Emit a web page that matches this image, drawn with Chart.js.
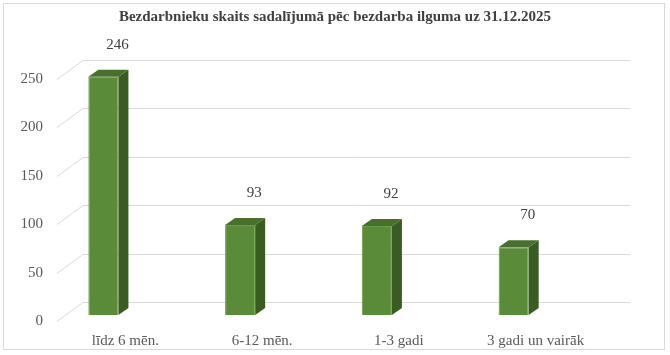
<!DOCTYPE html>
<html><head><meta charset="utf-8">
<script src="https://cdn.jsdelivr.net/npm/chart.js@4.4.1/dist/chart.umd.min.js"></script>
<style>
html,body{margin:0;padding:0;background:#fff;}
#wrap{position:relative;width:670px;height:355px;}
#frame{position:absolute;left:3px;top:3px;width:662px;height:347px;border:1px solid #d9d9d9;box-sizing:border-box;}
canvas{position:absolute;left:0;top:0;}
</style></head>
<body><div id="wrap"><div id="frame"></div><canvas id="c" width="670" height="355"></canvas></div>
<script>
const titleText = "Bezdarbnieku skaits sadalījumā pēc bezdarba ilguma uz 31.12.2025";
const categories = ["līdz 6 mēn.", "6-12 mēn.", "1-3 gadi", "3 gadi un vairāk"];
const values = [246, 93, 92, 70];
const yTicks = [0, 50, 100, 150, 200, 250];

const DEPTH = {dx: 26, dy: -19};      // back wall offset
const BAR_SHIFT = {dx: -22, dy: -6};  // bar plane offset from front plane
const BAR_DEPTH = {dx: 10, dy: -7};   // bar thickness
const FRONT = 'rgb(90,139,57)', SIDE = 'rgb(58,92,34)', TOP = 'rgb(72,112,44)';

const threeD = {
  id: 'threeD',
  beforeDatasetsDraw(chart) {
    const ctx = chart.ctx, y = chart.scales.y, a = chart.chartArea;
    ctx.save();
    ctx.fillStyle = '#404040';
    ctx.font = 'bold 15px "Liberation Serif"';
    ctx.textAlign = 'center'; ctx.textBaseline = 'middle';
    ctx.fillText(titleText, 335, 17);
    ctx.strokeStyle = '#d9d9d9'; ctx.lineWidth = 1;
    yTicks.forEach(v => {
      const py = Math.round(y.getPixelForValue(v)) + 0.5;
      ctx.beginPath();
      ctx.moveTo(a.left, py);
      ctx.lineTo(a.left + DEPTH.dx, py + DEPTH.dy);
      ctx.lineTo(a.right + DEPTH.dx, py + DEPTH.dy);
      ctx.stroke();
    });
    ctx.restore();
    ctx.save();
    ctx.translate(BAR_SHIFT.dx, BAR_SHIFT.dy);
  },
  afterDatasetsDraw(chart) {
    const ctx = chart.ctx;
    const meta = chart.getDatasetMeta(0);
    meta.data.forEach(bar => {
      const l = bar.x - bar.width / 2, r = bar.x + bar.width / 2;
      const t = bar.y, b = bar.base;
      ctx.fillStyle = SIDE;
      ctx.beginPath();
      ctx.moveTo(r, t); ctx.lineTo(r + BAR_DEPTH.dx, t + BAR_DEPTH.dy);
      ctx.lineTo(r + BAR_DEPTH.dx, b + BAR_DEPTH.dy); ctx.lineTo(r, b);
      ctx.closePath(); ctx.fill();
      ctx.fillStyle = TOP;
      ctx.beginPath();
      ctx.moveTo(l, t); ctx.lineTo(l + BAR_DEPTH.dx, t + BAR_DEPTH.dy);
      ctx.lineTo(r + BAR_DEPTH.dx, t + BAR_DEPTH.dy); ctx.lineTo(r, t);
      ctx.closePath(); ctx.fill();
    });
    ctx.fillStyle = '#404040';
    ctx.font = '15px "Liberation Serif"';
    ctx.textAlign = 'center'; ctx.textBaseline = 'middle';
    meta.data.forEach((bar, i) => {
      ctx.fillText(String(values[i]), bar.x + 14, bar.y - 32);
    });
    ctx.restore();
  }
};

new Chart(document.getElementById('c'), {
  type: 'bar',
  data: {
    labels: categories,
    datasets: [{
      data: values,
      backgroundColor: FRONT,
      borderColor: 'rgb(106,158,70)',
      borderWidth: 1,
      barPercentage: 0.22,
      categoryPercentage: 1,
      clip: false
    }]
  },
  options: {
    responsive: false,
    animation: false,
    events: [],
    layout: {padding: {left: 0, right: 66, top: 79, bottom: 0}},
    plugins: {
      legend: {display: false},
      tooltip: {enabled: false},
      title: {display: false}
    },
    scales: {
      x: {
        grid: {display: false, drawTicks: false},
        border: {display: false},
        ticks: {color: '#595959', font: {family: '"Liberation Serif"', size: 15}, padding: 11, maxRotation: 0, autoSkip: false},
        afterFit(s) { s.height = 34; }
      },
      y: {
        min: 0, max: 250,
        afterBuildTicks(s) { s.ticks = yTicks.map(v => ({value: v})); },
        grid: {display: false, drawTicks: false},
        border: {display: false},
        ticks: {color: '#595959', font: {family: '"Liberation Serif"', size: 15}, padding: 14},
        afterFit(s) { s.width = 57; }
      }
    }
  },
  plugins: [threeD]
});
</script>
</body></html>
